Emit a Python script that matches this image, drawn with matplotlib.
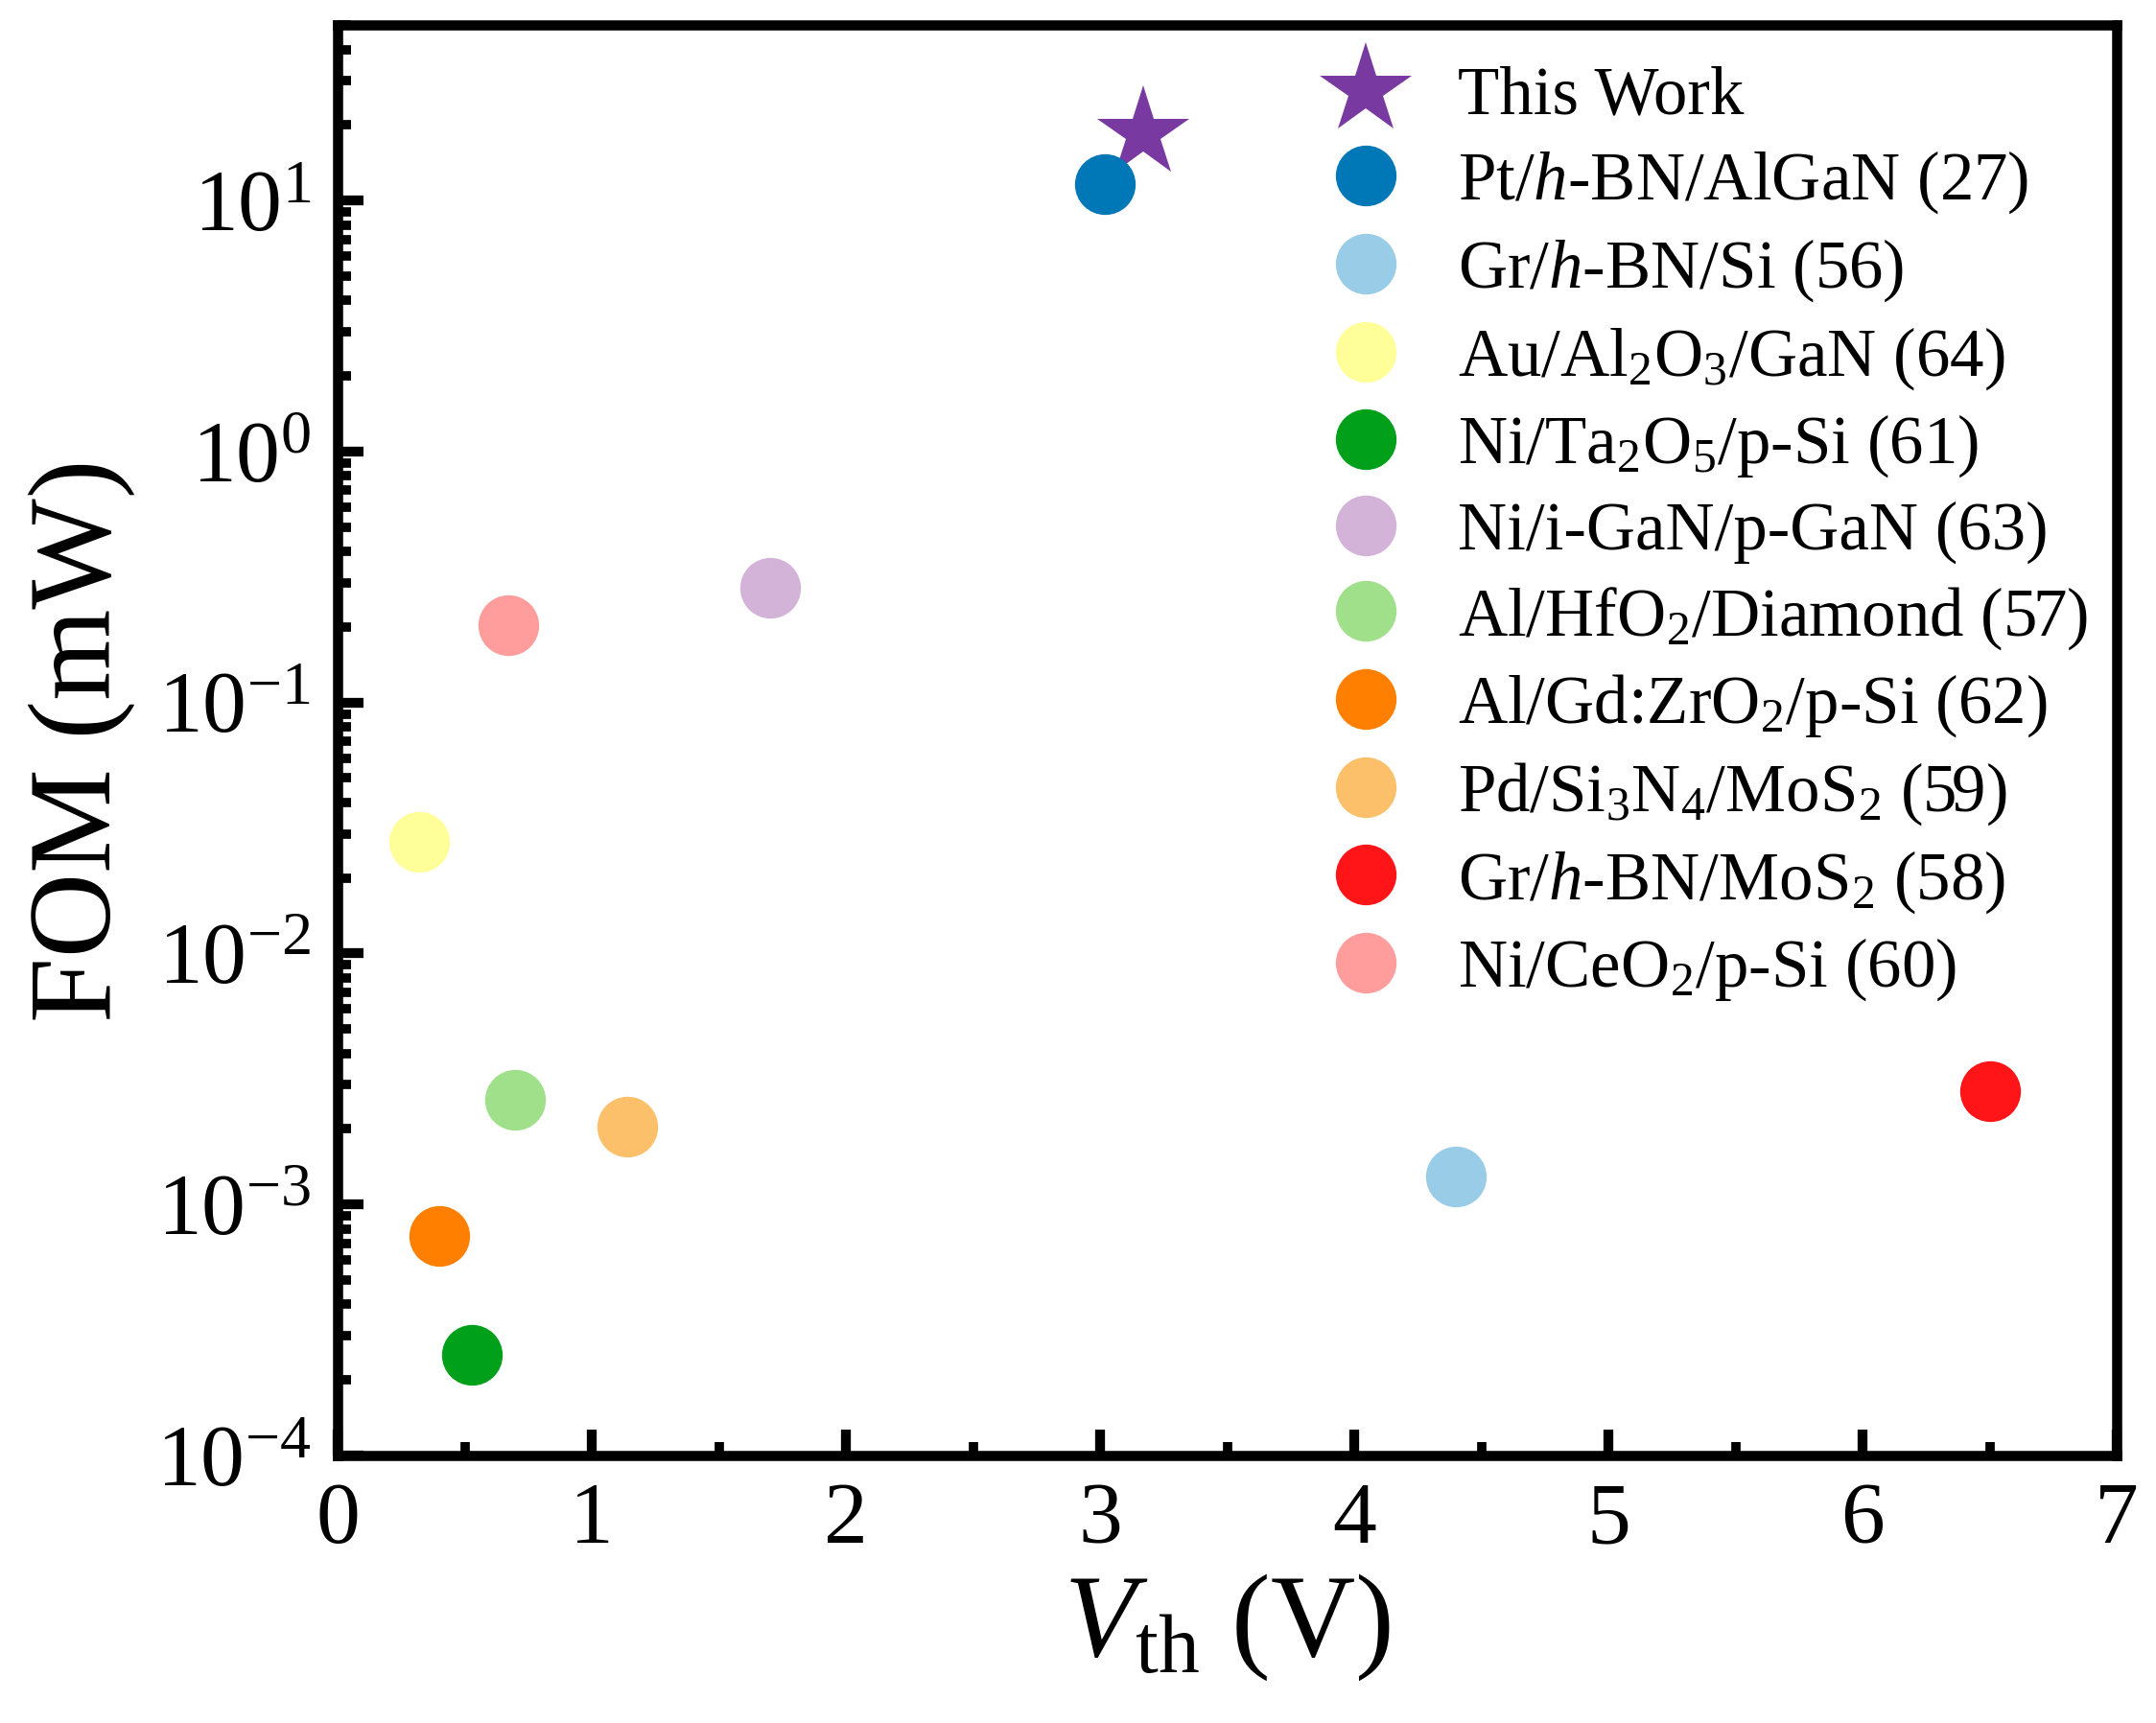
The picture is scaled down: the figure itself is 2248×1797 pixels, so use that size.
import matplotlib
matplotlib.use("Agg")
import matplotlib.pyplot as plt
from matplotlib.ticker import LogLocator, MultipleLocator, NullFormatter

plt.rcParams['font.family'] = ['Liberation Serif', 'DejaVu Serif']
plt.rcParams['mathtext.fontset'] = 'custom'
plt.rcParams['mathtext.rm'] = 'Liberation Serif'
plt.rcParams['mathtext.it'] = 'Liberation Serif:italic'
plt.rcParams['mathtext.bf'] = 'Liberation Serif:bold'

labels = [
    "This Work",
    "Pt/$h$-BN/AlGaN (27)",
    "Gr/$h$-BN/Si (56)",
    "Au/Al$_2$O$_3$/GaN (64)",
    "Ni/Ta$_2$O$_5$/p-Si (61)",
    "Ni/i-GaN/p-GaN (63)",
    "Al/HfO$_2$/Diamond (57)",
    "Al/Gd:ZrO$_2$/p-Si (62)",
    "Pd/Si$_3$N$_4$/MoS$_2$ (59)",
    "Gr/$h$-BN/MoS$_2$ (58)",
    "Ni/CeO$_2$/p-Si (60)",
]
vth = [3.17, 3.02, 4.40, 0.32, 0.528, 1.70, 0.698, 0.399, 1.14, 6.50, 0.67]
fom = [18.6, 11.6, 1.29e-3, 0.0279, 2.52e-4, 0.286, 2.61e-3, 7.46e-4, 2.05e-3, 2.84e-3, 0.203]
colors = ["#7839A0", "#0077B6", "#99CCE6", "#FFFF99", "#00A01A", "#D4B3D9",
          "#A1E08A", "#FF8000", "#FDC06A", "#FF1418", "#FF9C9C"]
markers = ["*"] + ["o"] * 10

fig = plt.figure(figsize=(11.24, 8.985), dpi=200)
ax = fig.add_axes([0.1566, 0.1553, 0.8252, 0.8301])

for x, y, c, m, lab in zip(vth, fom, colors, markers, labels):
    ms = 36 if m == "*" else 22.8
    ax.plot([x], [y], linestyle='none', marker=m, color=c, markersize=ms,
            markeredgewidth=0, label=lab)

ax.set_yscale('log')
ax.set_xlim(0, 7)
ax.set_ylim(1e-4, 50)
ax.xaxis.set_major_locator(MultipleLocator(1))
ax.xaxis.set_minor_locator(MultipleLocator(0.5))
ax.yaxis.set_major_locator(LogLocator(base=10, numticks=20))
ax.yaxis.set_minor_locator(LogLocator(base=10, subs=range(2, 10), numticks=20))
ax.yaxis.set_minor_formatter(NullFormatter())

for s in ax.spines.values():
    s.set_linewidth(3.8)
ax.tick_params(which='both', direction='in', top=False, right=False)
ax.tick_params(which='major', length=9.7, width=3.7, labelsize=33, pad=10)
ax.tick_params(which='minor', length=5, width=3.5)

ax.set_xlabel("$V_{\\mathrm{th}}$ (V)", fontsize=44, labelpad=4)
ax.set_ylabel("FOM (mW)", fontsize=44, labelpad=8)

leg = ax.legend(loc='upper right', frameon=False, fontsize=25.5, handletextpad=0.35,
                handlelength=2.0, labelspacing=0.31, borderaxespad=0.0, numpoints=1,
                bbox_to_anchor=(0.9993, 0.9905))

fig.savefig("out.png", dpi=200)
